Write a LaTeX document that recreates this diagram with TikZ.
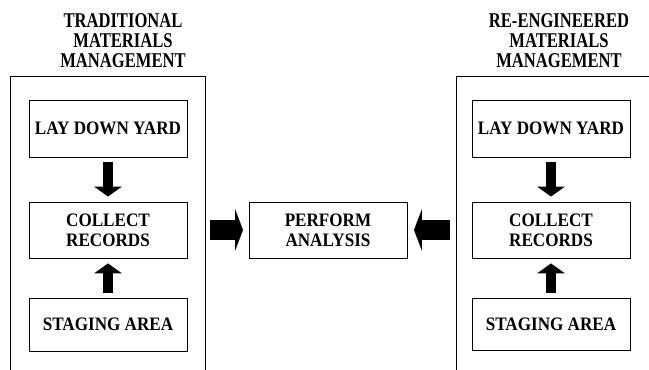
\documentclass[tikz,border=0pt]{standalone}
\usepackage{fontspec}
\setmainfont{Liberation Serif}
\newfontfamily\titlefont{Liberation Serif}[FakeStretch=0.79]
\newfontfamily\boxfont{Liberation Serif}[FakeStretch=0.9]
\usetikzlibrary{arrows.meta}

\begin{document}
\begin{tikzpicture}[x=1pt, y=-1pt,
		title/.style={anchor=north, inner sep=0pt, align=center, font=\titlefont\bfseries\fontsize{21}{20}\selectfont},
		stepbox/.style={draw, line width=0.9pt, inner sep=0pt, align=center, minimum width=158pt, font=\boxfont\bfseries\fontsize{19}{20}\selectfont},
		wall/.style={draw, line width=0.9pt},
		downup/.style={line width=10pt, -{Triangle[length=10pt, width=28pt, line width=0pt]}, shorten <=5pt, shorten >=5pt},
		sideways/.style={line width=20pt, -{Triangle[length=8pt, width=42pt, line width=0pt]}, shorten <=5pt, shorten >=5.5pt}]
	\useasboundingbox (0,0) rectangle (649,370);
	
	% left column
	\node[title] (tradtitle) at (123,13.5) {TRADITIONAL\\MATERIALS\\MANAGEMENT};
	\draw[wall] (10,375) -- (10,76) -- (205,76) -- (205,375);
	\coordinate (tradR) at (205,230);
	\node[stepbox, minimum height=57pt] (laydownL) at (108,128.5) {LAY DOWN YARD};
	\node[stepbox, minimum height=56pt] (collectL) at (108,230) {COLLECT\\RECORDS};
	\node[stepbox, minimum height=53pt] (stagingL) at (108,324.5) {STAGING AREA};
	
	% middle
	\node[stepbox, minimum height=56pt] (perform) at (328,230) {PERFORM\\ANALYSIS};
	
	% right column
	\node[title] (retitle) at (559,13.5) {RE-ENGINEERED\\MATERIALS\\MANAGEMENT};
	\draw[wall] (456,375) -- (456,76) -- (655,76);
	\coordinate (reL) at (456,230);
	\node[stepbox, minimum height=57pt] (laydownR) at (551,128.5) {LAY DOWN YARD};
	\node[stepbox, minimum height=56pt] (collectR) at (551,230) {COLLECT\\RECORDS};
	\node[stepbox, minimum height=52pt] (stagingR) at (551,324.5) {STAGING AREA};
	
	% block arrows
	\draw[downup] (laydownL) -- (collectL);
	\draw[downup] (stagingL) -- (collectL);
	\draw[downup] (laydownR) -- (collectR);
	\draw[downup] (stagingR) -- (collectR);
	\draw[sideways] (tradR) -- (perform);
	\draw[sideways, shorten <=6pt, shorten >=6.5pt] (reL) -- (perform);
\end{tikzpicture}
\end{document}
